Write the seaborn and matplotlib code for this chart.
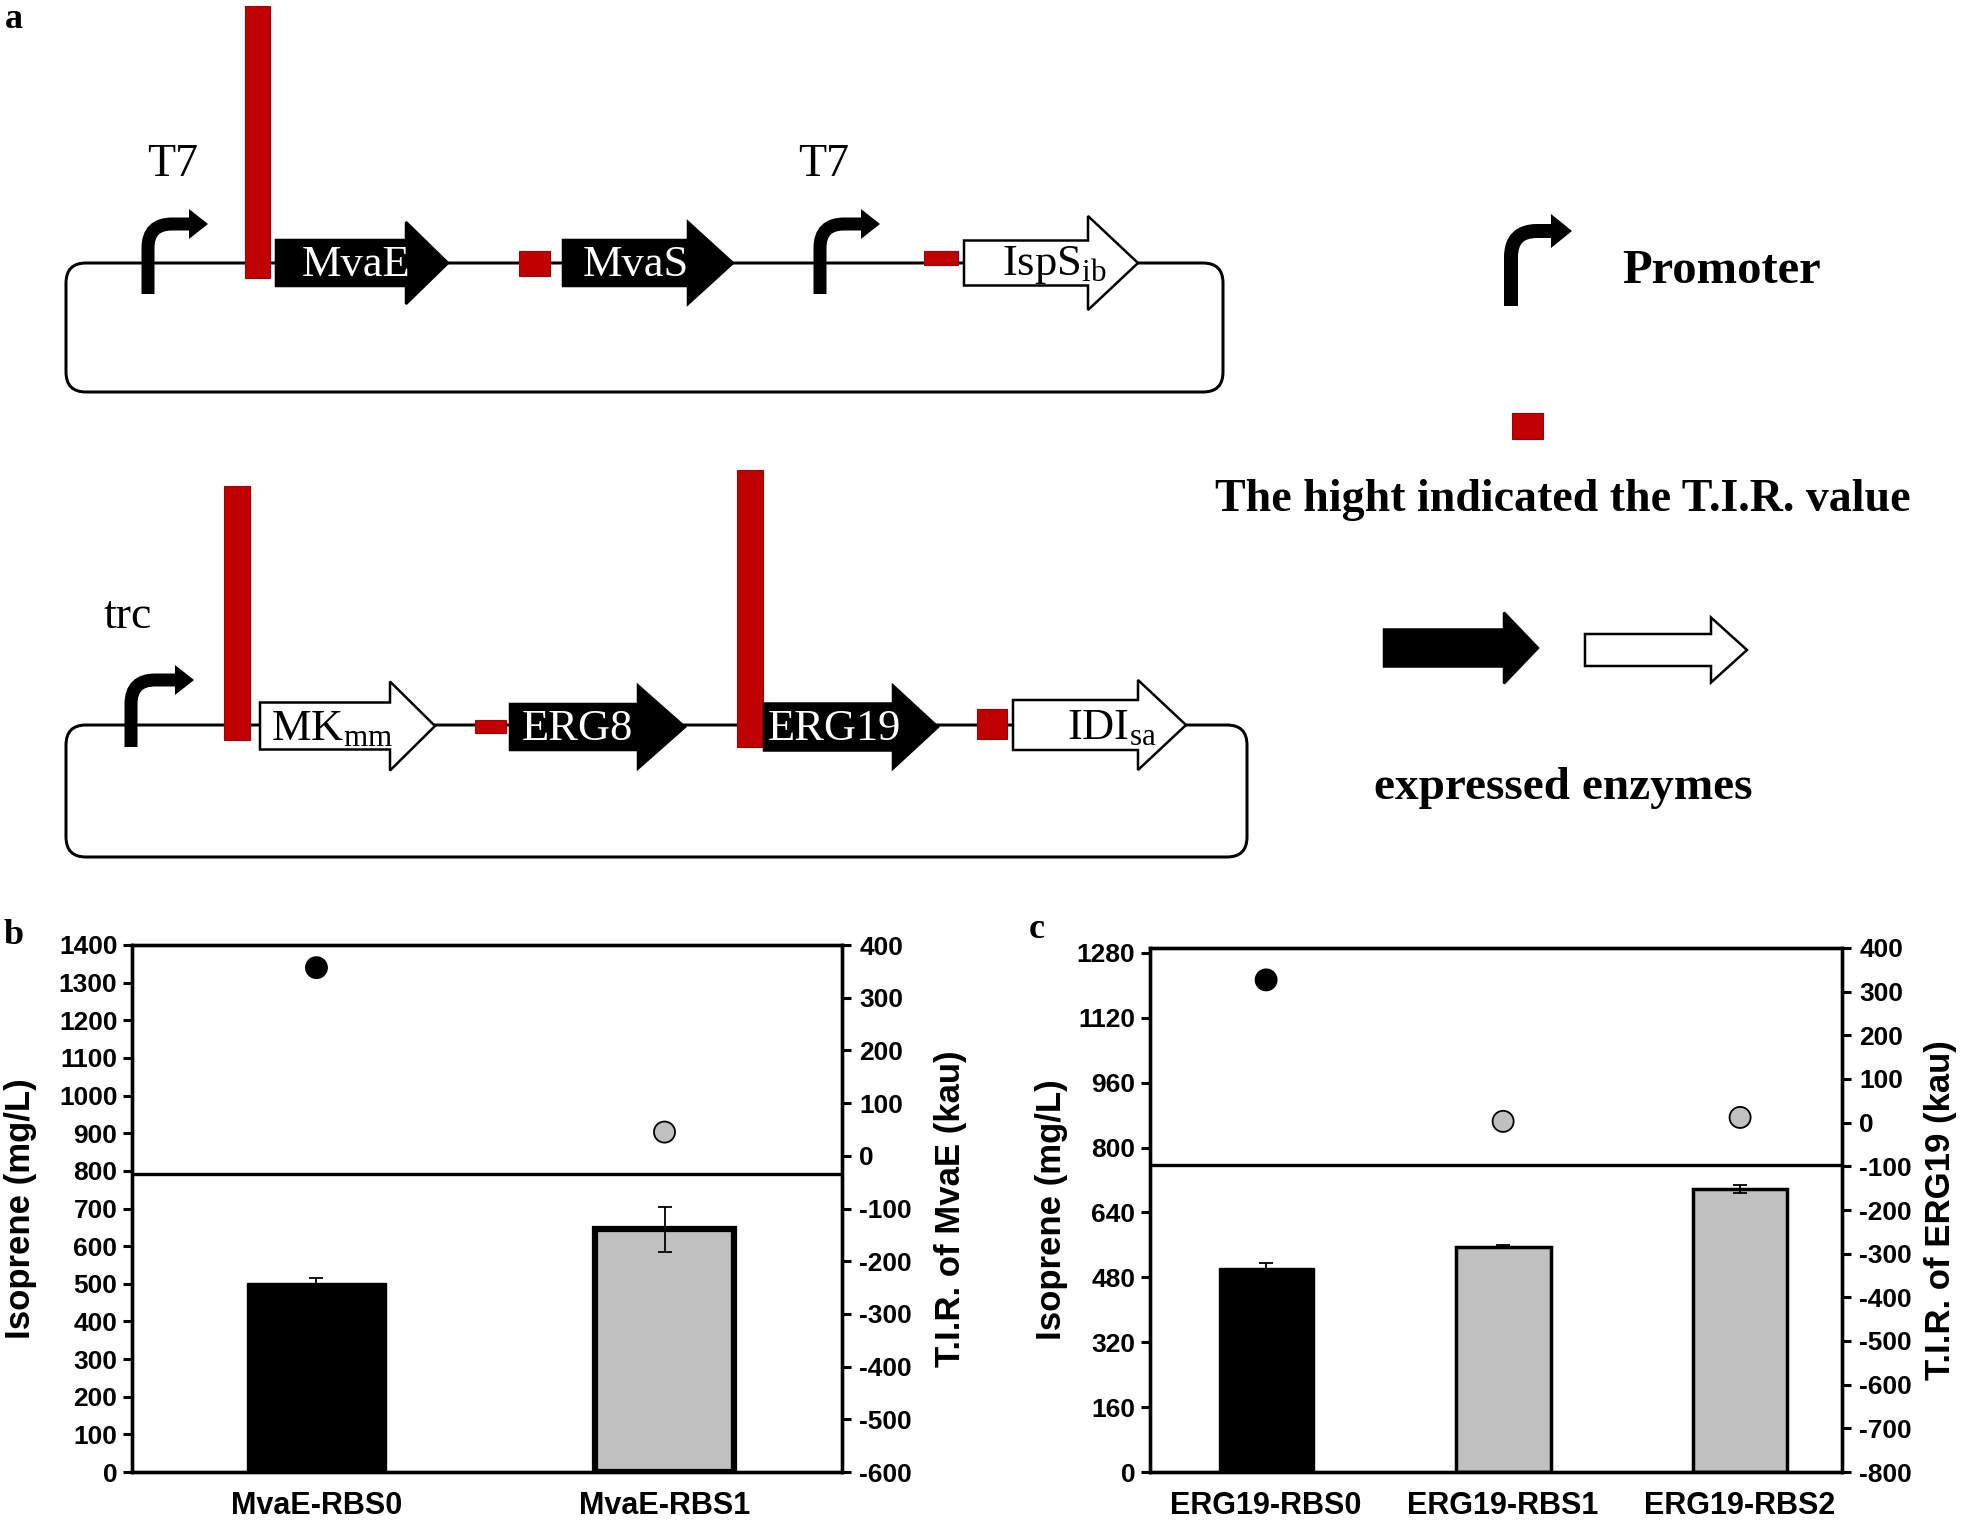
import numpy as np
import matplotlib
matplotlib.use('Agg')
import matplotlib.pyplot as plt
import matplotlib.patches as mpatches
from matplotlib.path import Path
import seaborn as sns

# ---- panel b data ----
b_strains = ['MvaE-RBS0', 'MvaE-RBS1']
b_isoprene = [503, 645]
b_isoprene_err = [12, 60]
b_tir = [357, 45]
b_bar_colors = ['black', '#c0c0c0']

# ---- panel c data ----
c_strains = ['ERG19-RBS0', 'ERG19-RBS1', 'ERG19-RBS2']
c_isoprene = [503, 556, 698]
c_isoprene_err = [12, 3, 9]
c_tir = [327, 3, 12]
c_bar_colors = ['black', '#c0c0c0', '#c0c0c0']

# ---- panel a: operons ----
plasmid1_genes = ['MvaE', 'MvaS', 'IspS']
plasmid1_subs = ['', '', 'ib']
plasmid1_fill = ['black', 'black', 'white']
plasmid1_rbs_height = [272, 25, 14]   # T.I.R. drawn as bar height (px)

plasmid2_genes = ['MK', 'ERG8', 'ERG19', 'IDI']
plasmid2_subs = ['mm', '', '', 'sa']
plasmid2_fill = ['white', 'black', 'black', 'white']
plasmid2_rbs_height = [254, 13, 277, 30]

RED = '#c00000'
PX = 0.72  # points per pixel at dpi 100

sns.set_style('ticks')
plt.rcParams['font.family'] = ['Liberation Sans', 'DejaVu Sans']
plt.rcParams['font.weight'] = 'bold'
plt.rcParams['axes.unicode_minus'] = False
for key in ['text.color', 'axes.labelcolor', 'xtick.color', 'ytick.color',
            'axes.edgecolor']:
    plt.rcParams[key] = 'black'
plt.rcParams['mathtext.fontset'] = 'custom'
plt.rcParams['mathtext.rm'] = 'Liberation Serif:weight=normal'
plt.rcParams['mathtext.it'] = 'Liberation Serif:italic:weight=normal'

fig = plt.figure(figsize=(19.61, 15.23), dpi=100)
canvas = fig.add_axes([0, 0, 1, 1])
canvas.set_xlim(0, 1961)
canvas.set_ylim(1523, 0)
canvas.axis('off')

SERIF = ['Liberation Serif', 'DejaVu Serif']


def loop(x0, y0, x1, y1):
    canvas.add_patch(mpatches.FancyBboxPatch(
        (x0, y0), x1 - x0, y1 - y0, boxstyle='round,pad=0,rounding_size=20',
        fill=False, ec='black', lw=3 * PX, zorder=1))


def red_box(x0, x1, ybot, h):
    canvas.add_patch(mpatches.Rectangle((x0, ybot - h), x1 - x0, h, fc=RED,
                                        ec='#a00000', lw=0.8, zorder=2))


def gene(x0, xh, xtip, yc, h, H, fill, label='', sub='', lx=None):
    pts = [(x0, yc - h / 2), (xh, yc - h / 2), (xh, yc - H / 2), (xtip, yc),
           (xh, yc + H / 2), (xh, yc + h / 2), (x0, yc + h / 2)]
    canvas.add_patch(mpatches.Polygon(pts, closed=True, fc=fill, ec='black',
                                      lw=2.5 * PX, joinstyle='miter', zorder=3))
    if not label:
        return
    tc = 'white' if fill == 'black' else 'black'
    if sub:
        txt = r'$\mathrm{%s}_{\mathrm{%s}}$' % (label, sub)
        canvas.text(lx, yc + 2, txt, color=tc, fontsize=32, ha='center',
                    va='center', fontweight='normal', zorder=4)
    else:
        canvas.text(lx, yc + 2, label, color=tc, fontsize=32, ha='center',
                    va='center', family=SERIF, fontweight='normal', zorder=4)


def promoter(x, ybot, ytop, tip, lw=13, head=18, half=15, r=24):
    verts = [(x, ybot), (x, ytop + r), (x, ytop), (x + r, ytop), (tip - head, ytop)]
    codes = [Path.MOVETO, Path.LINETO, Path.CURVE3, Path.CURVE3, Path.LINETO]
    canvas.add_patch(mpatches.PathPatch(Path(verts, codes), fill=False, ec='black',
                                        lw=lw * PX, capstyle='butt', zorder=4))
    canvas.add_patch(mpatches.Polygon([(tip - head - 1, ytop - half), (tip, ytop),
                                       (tip - head - 1, ytop + half)],
                                      fc='black', ec='none', zorder=4))


# top plasmid
loop(66, 263, 1223, 392)
red_box(245, 270, 278, plasmid1_rbs_height[0])
red_box(519, 550, 276, plasmid1_rbs_height[1])
red_box(924, 958, 265, plasmid1_rbs_height[2])
gene(276, 406, 448, 263, 46, 82, plasmid1_fill[0], plasmid1_genes[0], plasmid1_subs[0], 356)
gene(563, 688, 733, 263, 46, 82, plasmid1_fill[1], plasmid1_genes[1], plasmid1_subs[1], 636)
gene(964, 1088, 1138, 263, 45, 94, plasmid1_fill[2], plasmid1_genes[2], plasmid1_subs[2], 1054)
promoter(148, 294, 224, 208)
promoter(820, 294, 224, 880)
canvas.text(173, 165, 'T7', fontsize=33, ha='center', va='center', family=SERIF,
            fontweight='normal')
canvas.text(824, 165, 'T7', fontsize=33, ha='center', va='center', family=SERIF,
            fontweight='normal')

# bottom plasmid
loop(66, 725, 1247, 857)
red_box(224, 250, 740, plasmid2_rbs_height[0])
red_box(475, 506, 733, plasmid2_rbs_height[1])
red_box(737, 763, 747, plasmid2_rbs_height[2])
red_box(977, 1007, 739, plasmid2_rbs_height[3])
gene(260, 390, 435, 726, 47, 89, plasmid2_fill[0], plasmid2_genes[0], plasmid2_subs[0], 332)
gene(510, 638, 685, 727, 46, 83, plasmid2_fill[1], plasmid2_genes[1], plasmid2_subs[1], 577)
gene(764, 893, 938, 727, 47, 83, plasmid2_fill[2], plasmid2_genes[2], plasmid2_subs[2], 834)
gene(1013, 1138, 1186, 725, 50, 90, plasmid2_fill[3], plasmid2_genes[3], plasmid2_subs[3], 1112)
promoter(131, 747, 680, 194)
canvas.text(128, 617, 'trc', fontsize=33, ha='center', va='center', family=SERIF,
            fontweight='normal')

# legend of the scheme
promoter(1511, 306, 231, 1572, lw=14, head=20, half=17, r=26)
canvas.text(1622, 271, 'Promoter', fontsize=35, ha='left', va='center', family=SERIF,
            fontweight='bold')
red_box(1512, 1543, 439, 26)
canvas.text(1563, 500, 'The hight indicated the T.I.R. value', fontsize=33,
            ha='center', va='center', family=SERIF, fontweight='bold')
gene(1384, 1504, 1538, 648, 37, 71, 'black')
gene(1585, 1711, 1747, 650, 32, 65, 'white')
canvas.text(1563, 788, 'expressed enzymes', fontsize=34, ha='center', va='center',
            family=SERIF, fontweight='bold')

for lab, (x, y) in zip(['a', 'b', 'c'], [(14, 19), (14, 935), (1037, 929)]):
    canvas.text(x, y, lab, fontsize=26, ha='center', va='center', family=SERIF,
                fontweight='bold')


# ---- bar/scatter charts ----
def chart(rect, strains, iso, iso_err, tir, colors, ylim, yticks, y2lim, y2ticks,
          xlim, divider, edge_lw, ylab, y2lab, lab_x, lab2_x):
    ax = fig.add_axes(rect)
    n = len(strains)
    sns.barplot(x=strains, y=iso, hue=strains, palette=colors, width=0.4,
                errorbar=None, legend=False, saturation=1, edgecolor='black',
                ax=ax, zorder=2)
    for p, lw in zip(ax.patches, edge_lw):
        p.set_linewidth(lw)
    ax.errorbar(np.arange(n), iso, yerr=iso_err, fmt='none', ecolor='black',
                elinewidth=1.3, capsize=5, capthick=1.3, zorder=3)
    ax.axhline(divider, color='black', lw=2.4, zorder=4)
    ax.set_ylim(*ylim)
    ax.set_yticks(yticks)
    ax.set_ylabel(ylab, fontsize=25, fontweight='bold')
    ax.yaxis.set_label_coords(lab_x, 0.5)
    ax.set_xlabel('')

    ax2 = ax.twinx()
    sns.scatterplot(x=np.arange(n), y=tir, hue=strains, palette=colors, s=230,
                    edgecolor='black', linewidth=1.3, legend=False, ax=ax2, zorder=5)
    ax2.set_ylim(*y2lim)
    ax2.set_yticks(y2ticks)
    ax2.set_ylabel(y2lab, fontsize=25, fontweight='bold', rotation=90)
    ax2.yaxis.set_label_coords(lab2_x, 0.5)
    ax2.yaxis.label.set_verticalalignment('top')
    ax2.set_xlabel('')
    ax.set_xlim(*xlim)

    for a in (ax, ax2):
        for s in a.spines.values():
            s.set_visible(True)
            s.set_linewidth(2.4)
            s.set_color('black')
        a.tick_params(axis='y', direction='out', length=6.5, width=2.2,
                      labelsize=19, pad=4, colors='black')
    ax2.tick_params(axis='y', pad=6)
    ax.tick_params(axis='x', length=0, labelsize=22, pad=14, colors='black')
    return ax, ax2


chart([132 / 1961, 1 - 1472 / 1523, 710 / 1961, 527 / 1523],
      b_strains, b_isoprene, b_isoprene_err, b_tir, b_bar_colors,
      (0, 1400), np.arange(0, 1401, 100), (-600, 400), np.arange(-600, 401, 100),
      (-0.53, 1.51), 791, [1.0, 4.5],
      'Isoprene (mg/L)', 'T.I.R. of MvaE (kau)', -0.134, 1.13)

chart([1150 / 1961, 1 - 1472 / 1523, 692 / 1961, 524 / 1523],
      c_strains, c_isoprene, c_isoprene_err, c_tir, c_bar_colors,
      (0, 1292), np.arange(0, 1281, 160), (-800, 400), np.arange(-800, 401, 100),
      (-0.49, 2.43), 757, [1.0, 2.5, 2.5],
      'Isoprene (mg/L)', 'T.I.R. of ERG19 (kau)', -0.118, 1.118)

fig.savefig('out.png', dpi=100)
